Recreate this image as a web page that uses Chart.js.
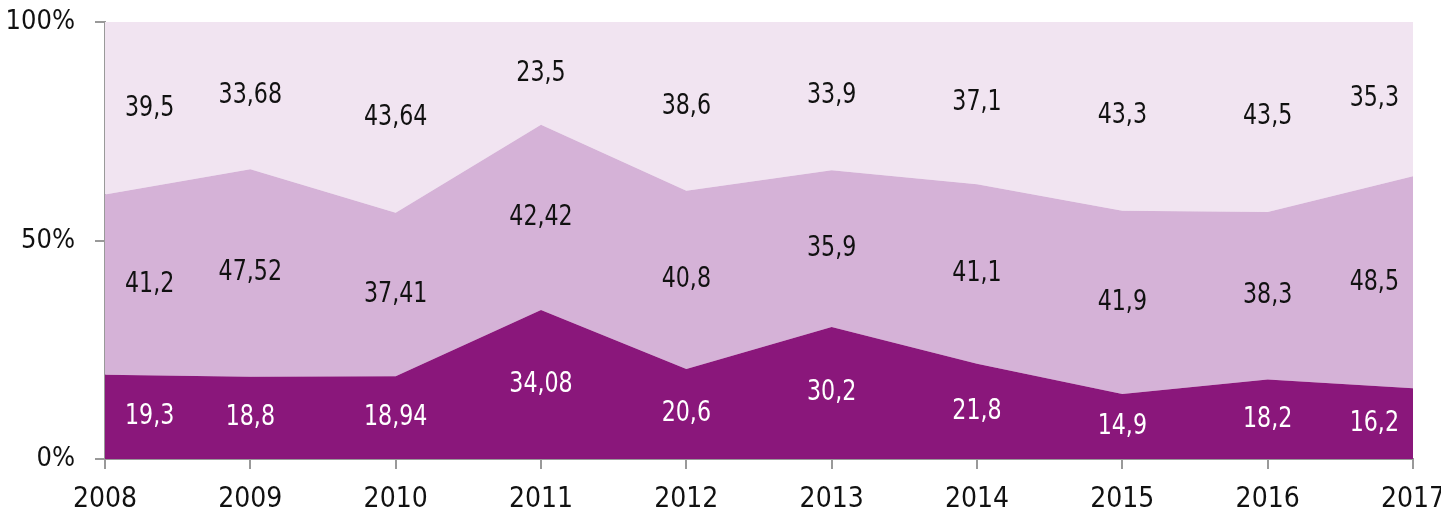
<!DOCTYPE html>
<html>
<head>
<meta charset="utf-8">
<script src="https://cdn.jsdelivr.net/npm/chart.js@4"></script>
<style>
  html, body { margin: 0; padding: 0; background: #fff; }
  #wrap { width: 1441px; height: 516px; }
</style>
</head>
<body>
<div id="wrap"><canvas id="grafica" width="1441" height="516"></canvas></div>
<script>
const anios = ['2008', '2009', '2010', '2011', '2012', '2013', '2014', '2015', '2016', '2017'];
const serieBaja = [19.3, 18.8, 18.94, 34.08, 20.6, 30.2, 21.8, 14.9, 18.2, 16.2];
const serieMedia = [41.2, 47.52, 37.41, 42.42, 40.8, 35.9, 41.1, 41.9, 38.3, 48.5];
const serieAlta = [39.5, 33.68, 43.64, 23.5, 38.6, 33.9, 37.1, 43.3, 43.5, 35.3];
const ticksY = [0, 50, 100];

const fuente = "'Liberation Sans Narrow', 'DejaVu Sans Condensed', sans-serif";

function formato(v) {
  return String(v).replace('.', ',');
}

// etiquetas en el centro de cada banda
const etiquetas = {
  id: 'etiquetas',
  afterDatasetsDraw(chart) {
    const ctx = chart.ctx;
    const x = chart.scales.x, y = chart.scales.y;
    const area = chart.chartArea;
    const esc = 0.88;
    ctx.save();
    ctx.font = '28px ' + fuente;
    ctx.textAlign = 'center';
    ctx.textBaseline = 'middle';
    chart.data.datasets.forEach((ds, i) => {
      ds.data.forEach((v, j) => {
        let base = 0;
        for (let k = 0; k < i; k++) base += chart.data.datasets[k].data[j];
        const w = ctx.measureText(formato(v)).width * esc;
        let px = x.getPixelForValue(j);
        px = Math.max(area.left + w / 2 + 20, Math.min(area.right - w / 2 - 14, px));
        const py = y.getPixelForValue(base + v / 2);
        ctx.fillStyle = i === 0 ? '#ffffff' : '#111111';
        ctx.save();
        ctx.translate(px, py);
        ctx.scale(esc, 1);
        ctx.fillText(formato(v), 0, 0);
        ctx.restore();
      });
    });
    ctx.restore();
  }
};

const ctx = document.getElementById('grafica').getContext('2d');
new Chart(ctx, {
  type: 'line',
  data: {
    labels: anios,
    datasets: [
      { label: 'Baja', data: serieBaja, backgroundColor: '#8a177b', fill: 'origin' },
      { label: 'Media', data: serieMedia, backgroundColor: '#d5b2d7', fill: '-1' },
      { label: 'Alta', data: serieAlta, backgroundColor: '#f1e4f1', fill: '-1' }
    ]
  },
  options: {
    responsive: false,
    animation: false,
    elements: {
      line: { borderWidth: 0, tension: 0 },
      point: { radius: 0 }
    },
    layout: { padding: { top: 22, right: 28, left: 0, bottom: 0 } },
    plugins: {
      legend: { display: false },
      tooltip: { enabled: false }
    },
    scales: {
      x: {
        offset: false,
        grid: { drawOnChartArea: false, color: '#999', tickLength: 10, lineWidth: 2 },
        border: { color: '#999', width: 2 },
        ticks: { color: '#111', font: { family: fuente, size: 28 }, maxRotation: 0, padding: 14 },
        afterFit(scale) {
          scale.height = 57;
          scale.paddingLeft = 0;
          scale.paddingRight = 0;
        }
      },
      y: {
        stacked: true,
        min: 0,
        max: 100,
        afterBuildTicks(scale) { scale.ticks = ticksY.map(v => ({ value: v })); },
        grid: { drawOnChartArea: false, color: '#999', tickLength: 10, lineWidth: 2 },
        border: { color: '#999', width: 2 },
        ticks: {
          color: '#111',
          font: { family: fuente, size: 27 },
          padding: 20,
          callback: v => v + '%'
        },
        afterFit(scale) {
          scale.width = 105;
          scale.paddingTop = 0;
          scale.paddingBottom = 0;
        }
      }
    }
  },
  plugins: [etiquetas]
});
</script>
</body>
</html>
